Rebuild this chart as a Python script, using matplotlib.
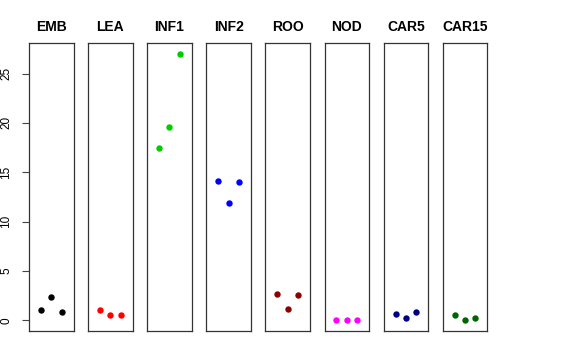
import numpy as np
import matplotlib.pyplot as plt

plt.rcParams['font.family'] = ['Liberation Sans', 'DejaVu Sans']

groups = ['EMB', 'LEA', 'INF1', 'INF2', 'ROO', 'NOD', 'CAR5', 'CAR15']
colors = ['black', 'red', '#00CD00', 'blue', '#8B0000', 'magenta', '#000080', '#006400']

EMB = [1.08, 2.33, 0.84]
LEA = [1.01, 0.54, 0.54]
INF1 = [17.43, 19.62, 26.98]
INF2 = [14.08, 11.89, 14.05]
ROO = [2.70, 1.11, 2.57]
NOD = [0.0, 0.0, 0.0]
CAR5 = [0.64, 0.27, 0.88]
CAR15 = [0.57, 0.0, 0.27]
values = [EMB, LEA, INF1, INF2, ROO, NOD, CAR5, CAR15]

yticks = [0, 5, 10, 15, 20, 25]

W, H = 576, 360
fig = plt.figure(figsize=(W / 100, H / 100), dpi=100)

allv = np.concatenate(values)
ymin, ymax = allv.min(), allv.max()
pad = 0.04 * (ymax - ymin)

left0, step, width = 29, 59.1, 44.5
top, bottom = 43.3, 331

for i, (g, c, v) in enumerate(zip(groups, colors, values)):
    ax = fig.add_axes([(left0 + i * step) / W, 1 - bottom / H,
                       width / W, (bottom - top) / H])
    x = np.arange(1, len(v) + 1)
    ax.plot(x, v, 'o', color=c, markersize=4.6, markeredgewidth=0)
    ax.set_xlim(-0.16, 4.16)
    ax.set_ylim(ymin - pad, ymax + pad)
    ax.set_xticks([])
    for s in ax.spines.values():
        s.set_linewidth(0.9)
        s.set_color('#333333')
    ax.set_title(g, fontsize=10, fontweight='bold', pad=9)
    if i == 0:
        ax.set_yticks(yticks)
        ax.set_yticklabels([str(t) for t in yticks], rotation=90, va='center', fontsize=8.5)
        ax.tick_params(axis='y', length=5, width=0.8, color='#444444', pad=7)
    else:
        ax.set_yticks([])

fig.savefig('out.png', dpi=100)
